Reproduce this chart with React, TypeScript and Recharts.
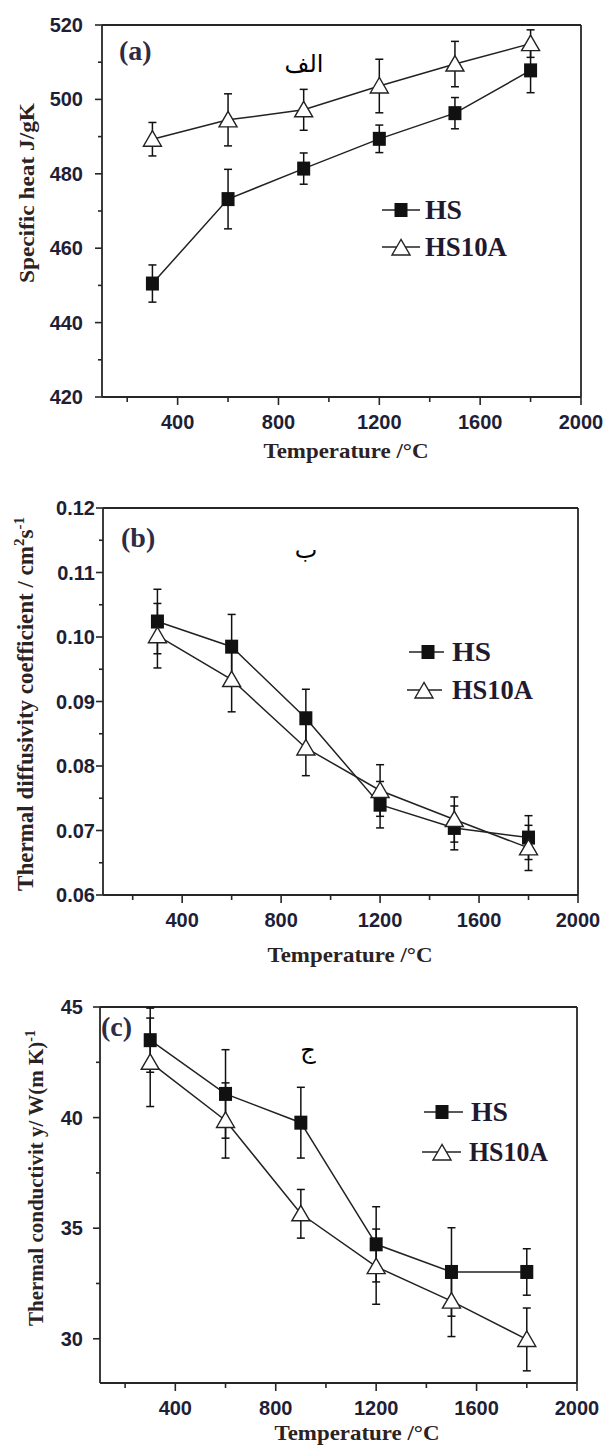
import React from 'react';
import { LineChart, Line, XAxis, YAxis, ErrorBar, ReferenceLine, Legend } from 'recharts';

// temperatures (°C) shared by all three panels
const TEMPS = [300, 600, 900, 1200, 1500, 1800];

// (a) specific heat, J/gK
const HS_CP = [450.5, 473.2, 481.4, 489.4, 496.3, 507.8];
const HS_CP_ERR = [5, 8, 4.2, 3.7, 4.2, 6];
const HS10A_CP = [489.3, 494.5, 497.2, 503.6, 509.5, 515.0];
const HS10A_CP_ERR = [4.5, 7, 5.5, 7.2, 6.1, 3.7];

// (b) thermal diffusivity, cm2/s
const HS_D = [0.1024, 0.0985, 0.0874, 0.074, 0.0704, 0.0689];
const HS_D_ERR = [0.005, 0.005, 0.0045, 0.0036, 0.0034, 0.0034];
const HS10A_D = [0.1002, 0.0934, 0.0828, 0.0762, 0.0717, 0.0673];
const HS10A_D_ERR = [0.005, 0.005, 0.0043, 0.004, 0.0035, 0.0035];

// (c) thermal conductivity, W/(m K)
const HS_K = [43.5, 41.07, 39.77, 34.27, 33.02, 33.02];
const HS_K_ERR = [1.45, 2, 1.6, 1.7, 2, 1.05];
const HS10A_K = [42.5, 39.87, 35.65, 33.26, 31.7, 29.97];
const HS10A_K_ERR = [2, 1.7, 1.1, 1.7, 1.6, 1.42];

const X_TICKS = [200, 400, 600, 800, 1000, 1200, 1400, 1600, 1800, 2000];
const X_LABELS = [400, 800, 1200, 1600, 2000];

const CP_TICKS = [420, 430, 440, 450, 460, 470, 480, 490, 500, 510, 520];
const CP_LABELS = [420, 440, 460, 480, 500, 520];
const D_TICKS = [0.06, 0.065, 0.07, 0.075, 0.08, 0.085, 0.09, 0.095, 0.1, 0.105, 0.11, 0.115, 0.12];
const D_LABELS = [0.06, 0.07, 0.08, 0.09, 0.1, 0.11, 0.12];
const K_TICKS = [30, 32.5, 35, 37.5, 40, 42.5, 45];
const K_LABELS = [30, 35, 40, 45];

const AXIS = '#262626';
const TICK = '#1e1e36';
const TITLE = '#2b2222';
const SERIF = '"Liberation Serif", "Times New Roman", serif';
const SANS = '"Liberation Sans", Arial, sans-serif';

const toRows = (hs: number[], hsErr: number[], hs10a: number[], hs10aErr: number[]) =>
  TEMPS.map((t, i) => ({ temp: t, hs: hs[i], hsErr: hsErr[i], hs10a: hs10a[i], hs10aErr: hs10aErr[i] }));

const isIn = (list: number[], v: number) => list.some((l) => Math.abs(l - v) < 1e-9);

function XTick(props: any) {
  const { x, y, payload } = props;
  const major = isIn(X_LABELS, payload.value);
  return (
    <g>
      <line x1={x} x2={x} y1={y} y2={y + (major ? 8 : 5)} stroke={AXIS} strokeWidth={1.6} />
      {major && (
        <text x={x} y={y + 32} textAnchor="middle" fontFamily={SANS} fontWeight="bold" fontSize={20} fill={TICK}>
          {payload.value}
        </text>
      )}
    </g>
  );
}

const makeYTick = (labels: number[], fmt: (v: number) => string, gap: number) => (props: any) => {
  const { x, y, payload } = props;
  const major = isIn(labels, payload.value);
  return (
    <g>
      <line x1={x} x2={x - (major ? 7 : 4)} y1={y} y2={y} stroke={AXIS} strokeWidth={1.6} />
      {major && (
        <text x={x - gap} y={y + 7} textAnchor="end" fontFamily={SANS} fontWeight="bold" fontSize={20} fill={TICK}>
          {fmt(payload.value)}
        </text>
      )}
    </g>
  );
};

const squareDot = (p: any) => {
  if (p.cx == null || p.cy == null) return <g key={`sq-${p.index}`} />;
  return <rect key={`sq-${p.index}`} x={p.cx - 6.5} y={p.cy - 7} width={13} height={14} fill="#111" />;
};

const triangleDot = (p: any) => {
  if (p.cx == null || p.cy == null) return <g key={`tr-${p.index}`} />;
  const { cx, cy } = p;
  return (
    <polygon
      key={`tr-${p.index}`}
      points={`${cx},${cy - 8.5} ${cx - 9},${cy + 7} ${cx + 9},${cy + 7}`}
      fill="#fff"
      stroke="#222"
      strokeWidth={1.4}
    />
  );
};

type KeyRow = { name: string; marker: 'square' | 'triangle'; x1: number; x2: number; mx: number; y: number; tx: number; len: number };

function SeriesKey({ rows, height }: { rows: KeyRow[]; height: number }) {
  return (
    <svg width={606} height={height} style={{ display: 'block' }}>
      {rows.map((r) => (
        <g key={r.name}>
          <line x1={r.x1} x2={r.x2} y1={r.y} y2={r.y} stroke="#222" strokeWidth={1.5} />
          {r.marker === 'square'
            ? squareDot({ cx: r.mx, cy: r.y, index: r.name })
            : triangleDot({ cx: r.mx, cy: r.y + 1, index: r.name })}
          <text
            x={r.tx}
            y={r.y + 9}
            fontFamily={SERIF}
            fontWeight="bold"
            fontSize={27}
            fill="#1f1a30"
            textLength={r.len}
            lengthAdjust="spacingAndGlyphs"
          >
            {r.name}
          </text>
        </g>
      ))}
    </svg>
  );
}

type PanelProps = {
  top: number;
  height: number;
  margin: { top: number; right: number; bottom: number; left: number };
  xMin: number;
  yDomain: [number, number];
  yTicks: number[];
  yLabels: number[];
  yFmt: (v: number) => string;
  yGap: number;
  xAxisHeight: number;
  data: ReturnType<typeof toRows>;
  yTitle: React.ReactNode;
  yTitleX: number;
  yTitleY: number;
  yTitleSize: number;
  yTitleLen?: number;
  xTitleX: number;
  xTitleY: number;
  letter: string;
  letterX: number;
  letterY: number;
  arabic: string;
  arabicX: number;
  arabicY: number;
  keyRows: KeyRow[];
};

function Panel(p: PanelProps) {
  const yTick = makeYTick(p.yLabels, p.yFmt, p.yGap);
  return (
    <div style={{ position: 'absolute', left: 0, top: p.top, width: 606, height: p.height }}>
      <LineChart width={606} height={p.height} data={p.data} margin={p.margin}>
        <XAxis
          type="number"
          dataKey="temp"
          domain={[p.xMin, 2000]}
          ticks={X_TICKS}
          interval={0}
          allowDataOverflow
          tick={XTick}
          tickLine={false}
          tickSize={0}
          tickMargin={0}
          height={p.xAxisHeight}
          axisLine={{ stroke: AXIS, strokeWidth: 1.8 }}
          label={{
            content: () => (
              <text
                x={p.xTitleX}
                y={p.xTitleY}
                textAnchor="middle"
                fontFamily={SERIF}
                fontWeight="bold"
                fontSize={22}
                fill={TITLE}
                textLength={165}
                lengthAdjust="spacingAndGlyphs"
              >
                Temperature /°C
              </text>
            ),
          }}
        />
        <YAxis
          type="number"
          domain={p.yDomain}
          ticks={p.yTicks}
          interval={0}
          allowDataOverflow
          tick={yTick}
          tickLine={false}
          tickSize={0}
          tickMargin={0}
          width={80}
          axisLine={{ stroke: AXIS, strokeWidth: 1.8 }}
          label={{
            content: () => (
              <text
                x={p.yTitleX}
                y={p.yTitleY}
                transform={`rotate(-90, ${p.yTitleX}, ${p.yTitleY})`}
                textAnchor="middle"
                fontFamily={SERIF}
                fontWeight="bold"
                fontSize={p.yTitleSize}
                fill={TITLE}
                textLength={p.yTitleLen}
                lengthAdjust={p.yTitleLen ? 'spacingAndGlyphs' : undefined}
              >
                {p.yTitle}
              </text>
            ),
          }}
        />
        <ReferenceLine y={p.yDomain[1]} stroke={AXIS} strokeWidth={1.8} />
        <ReferenceLine x={2000} stroke={AXIS} strokeWidth={1.8} />
        <Legend
          layout="vertical"
          align="center"
          verticalAlign="middle"
          wrapperStyle={{ left: 0, top: 0, width: 606, height: p.height, pointerEvents: 'none' }}
          content={() => <SeriesKey rows={p.keyRows} height={p.height} />}
        />
        <Line
          dataKey="hs"
          name="HS"
          stroke="#222"
          strokeWidth={1.5}
          dot={squareDot}
          activeDot={false}
          isAnimationActive={false}
        >
          <ErrorBar dataKey="hsErr" direction="y" width={4} stroke="#111" strokeWidth={1.5} />
        </Line>
        <Line
          dataKey="hs10a"
          name="HS10A"
          stroke="#222"
          strokeWidth={1.5}
          dot={triangleDot}
          activeDot={false}
          isAnimationActive={false}
        >
          <ErrorBar dataKey="hs10aErr" direction="y" width={4} stroke="#111" strokeWidth={1.5} />
        </Line>
      </LineChart>
      <svg
        width={606}
        height={p.height}
        style={{ position: 'absolute', left: 0, top: 0, pointerEvents: 'none' }}
      >
        <text x={p.letterX} y={p.letterY} fontFamily={SERIF} fontWeight="bold" fontSize={28} fill="#2f2b45">
          {p.letter}
        </text>
        <text x={p.arabicX} y={p.arabicY} textAnchor="middle" fontFamily='"DejaVu Sans", sans-serif' fontSize={24} fill="#000" direction="rtl">
          {p.arabic}
        </text>
      </svg>
    </div>
  );
}

export default function App() {
  return (
    <div style={{ position: 'absolute', left: 0, top: 0, width: 606, height: 1448, background: '#fff' }}>
      <Panel
        top={0}
        height={480}
        margin={{ top: 25, right: 25, bottom: 13, left: 22 }}
        xMin={100}
        yDomain={[420, 520]}
        yTicks={CP_TICKS}
        yLabels={CP_LABELS}
        yFmt={(v) => String(v)}
        yGap={19}
        xAxisHeight={70}
        data={toRows(HS_CP, HS_CP_ERR, HS10A_CP, HS10A_CP_ERR)}
        yTitle="Specific heat J/gK"
        yTitleX={34}
        yTitleY={193}
        yTitleSize={22}
        yTitleLen={180}
        xTitleX={346}
        xTitleY={458}
        letter="(a)"
        letterX={119}
        letterY={60}
        arabic="الف"
        arabicX={304}
        arabicY={72}
        keyRows={[
          { name: 'HS', marker: 'square', x1: 382, x2: 420, mx: 401, y: 210, tx: 425, len: 37 },
          { name: 'HS10A', marker: 'triangle', x1: 382, x2: 420, mx: 401, y: 247, tx: 425, len: 82 },
        ]}
      />
      <Panel
        top={480}
        height={490}
        margin={{ top: 28, right: 28, bottom: 5, left: 23 }}
        xMin={80}
        yDomain={[0.06, 0.12]}
        yTicks={D_TICKS}
        yLabels={D_LABELS}
        yFmt={(v) => v.toFixed(2)}
        yGap={8}
        xAxisHeight={70}
        data={toRows(HS_D, HS_D_ERR, HS10A_D, HS10A_D_ERR)}
        yTitle={
          <>
            Thermal diffusivity coefficient / cm
            <tspan dy={-9} fontSize={15}>2</tspan>
            <tspan dy={9}>s</tspan>
            <tspan dy={-9} fontSize={15}>-1</tspan>
          </>
        }
        yTitleX={33}
        yTitleY={224}
        yTitleSize={23}
        xTitleX={350}
        xTitleY={482}
        letter="(b)"
        letterX={121}
        letterY={67}
        arabic="ب"
        arabicX={306}
        arabicY={78}
        keyRows={[
          { name: 'HS', marker: 'square', x1: 409, x2: 444, mx: 428, y: 172, tx: 452, len: 39 },
          { name: 'HS10A', marker: 'triangle', x1: 407, x2: 442, mx: 424, y: 210, tx: 452, len: 81 },
        ]}
      />
      <Panel
        top={970}
        height={478}
        margin={{ top: 37, right: 29, bottom: 0, left: 20 }}
        xMin={100}
        yDomain={[28, 45]}
        yTicks={K_TICKS}
        yLabels={K_LABELS}
        yFmt={(v) => String(v)}
        yGap={17}
        xAxisHeight={65}
        data={toRows(HS_K, HS_K_ERR, HS10A_K, HS10A_K_ERR)}
        yTitle={
          <>
            Thermal conductivit y/ W(m K)
            <tspan dy={-8} fontSize={14}>-1</tspan>
          </>
        }
        yTitleX={43}
        yTitleY={208}
        yTitleSize={21}
        xTitleX={357}
        xTitleY={470}
        letter="(c)"
        letterX={101}
        letterY={66}
        arabic="ج"
        arabicX={308}
        arabicY={88}
        keyRows={[
          { name: 'HS', marker: 'square', x1: 424, x2: 463, mx: 442, y: 142, tx: 471, len: 37 },
          { name: 'HS10A', marker: 'triangle', x1: 422, x2: 461, mx: 442, y: 182, tx: 469, len: 79 },
        ]}
      />
    </div>
  );
}
